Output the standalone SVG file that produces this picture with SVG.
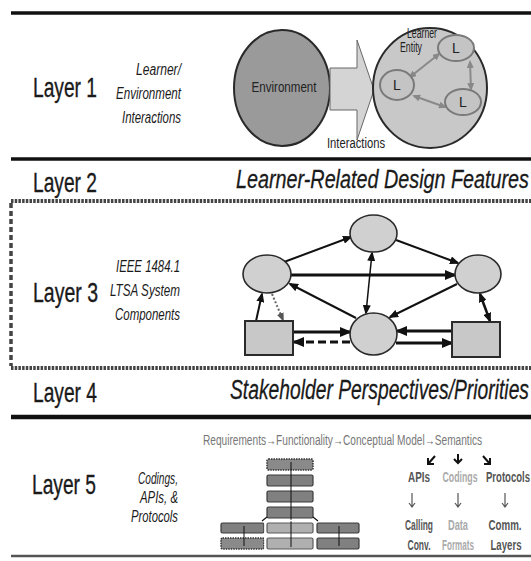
<svg xmlns="http://www.w3.org/2000/svg" width="531" height="561" viewBox="0 0 531 561">
<style>
.lbl{font-family:"Liberation Sans",Arial,sans-serif;font-size:28px;fill:#1a1a1a;stroke:#1a1a1a;stroke-width:0.35}
.sub{font-family:"Liberation Sans",Arial,sans-serif;font-size:16px;font-style:italic;fill:#1a1a1a;text-anchor:end}
.hdr{font-family:"Liberation Sans",Arial,sans-serif;font-style:italic;fill:#1a1a1a;stroke:#1a1a1a;stroke-width:0.3}
.sm{font-family:"Liberation Sans",Arial,sans-serif;font-size:14px;fill:#222}
.b5{font-family:"Liberation Sans",Arial,sans-serif;font-size:14px;font-weight:bold;text-anchor:middle}
.dk{fill:#555}.lt{fill:#aaa}
.node{fill:#d0d0d0;stroke:#2a2a2a;stroke-width:1.6}
.box{fill:#c8c8c8;stroke:#2a2a2a;stroke-width:2}
.ed{stroke:#111;fill:none}
.lc{fill:#c4c4c4;stroke:#7a7a7a;stroke-width:2}
.la{stroke:#8a8a8a;stroke-width:2;fill:none}
.bar{fill:#808080;stroke:#3a3a3a;stroke-width:1.2}
.barl{fill:#b0b0b0;stroke:#5a5a5a;stroke-width:1.2}
.dotl{stroke:#444;stroke-width:4;stroke-dasharray:2.5 1.2}
</style>
<defs>
<marker id="ah" markerUnits="userSpaceOnUse" markerWidth="10" markerHeight="8" refX="8" refY="4" orient="auto-start-reverse"><path d="M0,0 L10,4 L0,8 z" fill="#111"/></marker>
<marker id="ahb" markerUnits="userSpaceOnUse" markerWidth="12" markerHeight="10" refX="10" refY="5" orient="auto-start-reverse"><path d="M0,0 L12,5 L0,10 z" fill="#111"/></marker>
<marker id="ahg" markerUnits="userSpaceOnUse" markerWidth="8" markerHeight="7" refX="6" refY="3.5" orient="auto-start-reverse"><path d="M0,0 L8,3.5 L0,7 z" fill="#888"/></marker>
<marker id="ahd" markerUnits="userSpaceOnUse" markerWidth="9" markerHeight="7" refX="7" refY="3.5" orient="auto-start-reverse"><path d="M0,0 L9,3.5 L0,7 z" fill="#555"/></marker>
</defs>
<rect width="531" height="561" fill="#fff"/>

<g id="frame">
<line x1="11" y1="13" x2="531" y2="13" stroke="#111" stroke-width="3.5"/>
<line x1="11" y1="159" x2="531" y2="159" stroke="#111" stroke-width="3.5"/>
<line class="dotl" x1="11" y1="201" x2="531" y2="201"/>
<line class="dotl" x1="11" y1="368" x2="531" y2="368"/>
<line x1="11" y1="203" x2="11" y2="366" stroke="#444" stroke-width="3.5" stroke-dasharray="5 3"/>
<line x1="11" y1="417" x2="531" y2="417" stroke="#111" stroke-width="4.5"/>
<line x1="11" y1="556" x2="531" y2="556" stroke="#555" stroke-width="2.5"/>
</g>

<g id="labels">
<text class="lbl" x="33" y="97" textLength="64" lengthAdjust="spacingAndGlyphs">Layer 1</text>
<text class="lbl" x="33" y="192" textLength="64" lengthAdjust="spacingAndGlyphs">Layer 2</text>
<text class="lbl" x="33" y="302" textLength="65" lengthAdjust="spacingAndGlyphs">Layer 3</text>
<text class="lbl" x="33" y="402" textLength="64" lengthAdjust="spacingAndGlyphs">Layer 4</text>
<text class="lbl" x="32" y="494" textLength="64" lengthAdjust="spacingAndGlyphs">Layer 5</text>
<text class="sub" x="181" y="75" textLength="45" lengthAdjust="spacingAndGlyphs">Learner/</text>
<text class="sub" x="181" y="99" textLength="65" lengthAdjust="spacingAndGlyphs">Environment</text>
<text class="sub" x="181" y="123" textLength="59" lengthAdjust="spacingAndGlyphs">Interactions</text>
<text class="sub" x="180" y="272" textLength="64" lengthAdjust="spacingAndGlyphs">IEEE 1484.1</text>
<text class="sub" x="180" y="296" textLength="70" lengthAdjust="spacingAndGlyphs">LTSA System</text>
<text class="sub" x="180" y="320" textLength="65" lengthAdjust="spacingAndGlyphs">Components</text>
<text class="sub" x="178" y="484" textLength="40" lengthAdjust="spacingAndGlyphs">Codings,</text>
<text class="sub" x="178" y="503" textLength="38" lengthAdjust="spacingAndGlyphs">APIs, &amp;</text>
<text class="sub" x="178" y="522" textLength="47" lengthAdjust="spacingAndGlyphs">Protocols</text>
<text class="hdr" x="236" y="188" font-size="26" textLength="293" lengthAdjust="spacingAndGlyphs">Learner-Related Design Features</text>
<text class="hdr" x="230" y="399" font-size="27" textLength="299" lengthAdjust="spacingAndGlyphs">Stakeholder Perspectives/Priorities</text>
</g>

<g id="layer1">
<g id="environment">
<ellipse cx="282" cy="88" rx="48" ry="58" fill="#9a9a9a" stroke="#2a2a2a" stroke-width="2"/>
<text class="sm" x="284" y="92" text-anchor="middle" textLength="65" lengthAdjust="spacingAndGlyphs">Environment</text>
</g>
<g id="interactions-arrow">
<path d="M330,68 L357,68 L357,40 L374,90 L357,140 L357,110 L330,110 z" fill="#d4d4d4" stroke="#666" stroke-width="1"/>
<text class="sm" x="327" y="148" font-size="15" textLength="58" lengthAdjust="spacingAndGlyphs">Interactions</text>
</g>
<g id="learner-entity">
<ellipse cx="430" cy="88" rx="57" ry="60" fill="#c8c8c8" stroke="#2a2a2a" stroke-width="2"/>
<text class="sm" x="407" y="38" font-size="12" textLength="30" lengthAdjust="spacingAndGlyphs">Learner</text>
<text class="sm" x="400" y="52" font-size="12" textLength="22" lengthAdjust="spacingAndGlyphs">Entity</text>
<g id="l-arrows">
<line class="la" x1="410" y1="77" x2="439" y2="54" marker-start="url(#ahg)" marker-end="url(#ahg)"/>
<line class="la" x1="470" y1="62" x2="471" y2="89" marker-start="url(#ahg)" marker-end="url(#ahg)"/>
<line class="la" x1="414" y1="96" x2="445" y2="107" marker-start="url(#ahg)" marker-end="url(#ahg)"/>
</g>
<g id="l1"><ellipse class="lc" cx="456" cy="48" rx="18" ry="13"/><text class="sm" x="456" y="53" font-size="13" text-anchor="middle" fill="#333">L</text></g>
<g id="l2"><ellipse class="lc" cx="397" cy="85" rx="17" ry="15"/><text class="sm" x="397" y="90" font-size="13" text-anchor="middle" fill="#333">L</text></g>
<g id="l3"><ellipse class="lc" cx="463" cy="102" rx="18" ry="13"/><text class="sm" x="463" y="107" font-size="13" text-anchor="middle" fill="#333">L</text></g>
</g>
</g>

<g id="layer3-connectors">
<line class="ed" stroke-width="2" x1="284" y1="262" x2="351" y2="237" marker-end="url(#ah)"/>
<line class="ed" stroke-width="2" x1="396" y1="240" x2="458" y2="263" marker-end="url(#ah)"/>
<line class="ed" stroke-width="3" x1="291" y1="275" x2="455" y2="275" marker-end="url(#ahb)"/>
<line class="ed" stroke-width="1.5" x1="372" y1="253" x2="366" y2="313" marker-start="url(#ah)" marker-end="url(#ah)"/>
<line class="ed" stroke-width="2" x1="356" y1="318" x2="290" y2="284" marker-end="url(#ah)"/>
<line class="ed" stroke-width="2" x1="457" y1="284" x2="390" y2="317" marker-end="url(#ah)"/>
<line class="ed" stroke-width="2" x1="256" y1="321" x2="262" y2="294" marker-end="url(#ah)"/>
<line stroke="#666" stroke-width="2" stroke-dasharray="2 2" x1="272" y1="294" x2="283" y2="320" marker-end="url(#ahd)"/>
<line class="ed" stroke-width="3" x1="294" y1="332" x2="350" y2="332" marker-end="url(#ahb)"/>
<line class="ed" stroke-width="3" stroke-dasharray="8 4" x1="350" y1="342" x2="294" y2="342" marker-end="url(#ahb)"/>
<line class="ed" stroke-width="3" x1="452" y1="331" x2="397" y2="331" marker-end="url(#ahb)"/>
<line class="ed" stroke-width="3" x1="396" y1="343" x2="452" y2="343" marker-end="url(#ahb)"/>
<line class="ed" stroke-width="2.5" x1="480" y1="294" x2="490" y2="321" marker-start="url(#ah)" marker-end="url(#ah)"/>
</g>

<g id="layer3-nodes">
<g id="n-top"><ellipse class="node" cx="373.5" cy="233.5" rx="23.5" ry="18.5"/></g>
<g id="n-left"><ellipse class="node" cx="267" cy="274" rx="24" ry="19"/></g>
<g id="n-right"><ellipse class="node" cx="478" cy="274" rx="23" ry="19"/></g>
<g id="n-bottom"><ellipse class="node" cx="373.5" cy="334" rx="23.5" ry="21"/></g>
<g id="r-left"><rect class="box" x="245" y="321" width="48" height="34"/></g>
<g id="r-right"><rect class="box" x="452" y="322" width="48" height="35"/></g>
</g>

<g id="layer5-stack">
<rect x="267" y="459" width="46" height="11" rx="1.5" fill="#8a8a8a" stroke="#333" stroke-width="1.5" stroke-dasharray="1.5 1"/>
<rect class="bar" x="267" y="475" width="46" height="11" rx="1.5"/>
<rect class="bar" x="267" y="491" width="46" height="11" rx="1.5"/>
<rect class="bar" x="267" y="507" width="46" height="11" rx="1.5"/>
<rect class="barl" x="267" y="523" width="46" height="10" rx="1.5"/>
<rect class="barl" x="267" y="538" width="46" height="11" rx="1.5"/>
<rect class="bar" x="221" y="523" width="43" height="10" rx="1.5"/>
<rect x="221" y="538" width="43" height="11" rx="1.5" fill="#8a8a8a" stroke="#333" stroke-width="1.5" stroke-dasharray="1.5 1"/>
<rect class="bar" x="317" y="523" width="42" height="10" rx="1.5"/>
<rect class="bar" x="317" y="538" width="42" height="11" rx="1.5"/>
<line x1="291" y1="462" x2="291" y2="547" stroke="#111" stroke-width="1"/>
<line x1="339" y1="526" x2="339" y2="546" stroke="#111" stroke-width="1"/>
<line x1="244" y1="526" x2="244" y2="546" stroke="#111" stroke-width="1"/>
<rect x="265" y="520.5" width="50" height="30.5" fill="none" stroke="#fff" stroke-width="1.5"/>
<path d="M267,517 L262,521 M313,517 L318,521" stroke="#111" stroke-width="1.2" fill="none"/>
</g>

<g id="layer5-text">
<text class="sm" x="203" y="445" font-size="14" textLength="279" lengthAdjust="spacingAndGlyphs" style="fill:#777">Requirements→Functionality→Conceptual Model→Semantics</text>
<path d="M435,456 L428,464 M428,458 L428,464 L434,464" stroke="#111" stroke-width="2" fill="none"/>
<path d="M458,454 L458,463 M454,459 L458,463 L462,459" stroke="#111" stroke-width="2" fill="none"/>
<path d="M483,456 L490,464 M490,458 L490,464 L484,464" stroke="#111" stroke-width="2" fill="none"/>
<text class="b5 dk" x="419" y="482" textLength="22" lengthAdjust="spacingAndGlyphs">APIs</text>
<text class="b5 lt" x="460" y="482" textLength="35" lengthAdjust="spacingAndGlyphs">Codings</text>
<text class="b5 dk" x="508" y="482" textLength="44" lengthAdjust="spacingAndGlyphs">Protocols</text>
<path d="M412,493 L412,507 M409,503 L412,507 L415,503" stroke="#555" stroke-width="1.2" fill="none"/>
<path d="M458,493 L458,507 M455,503 L458,507 L461,503" stroke="#555" stroke-width="1.2" fill="none"/>
<path d="M505,493 L505,507 M502,503 L505,507 L508,503" stroke="#555" stroke-width="1.2" fill="none"/>
<text class="b5 dk" x="419" y="530" textLength="28" lengthAdjust="spacingAndGlyphs">Calling</text>
<text class="b5 dk" x="419" y="550" textLength="23" lengthAdjust="spacingAndGlyphs">Conv.</text>
<text class="b5 lt" x="458" y="530" textLength="20" lengthAdjust="spacingAndGlyphs">Data</text>
<text class="b5 lt" x="458" y="550" textLength="32" lengthAdjust="spacingAndGlyphs">Formats</text>
<text class="b5 dk" x="505" y="530" textLength="33" lengthAdjust="spacingAndGlyphs">Comm.</text>
<text class="b5 dk" x="506" y="550" textLength="31" lengthAdjust="spacingAndGlyphs">Layers</text>
</g>
</svg>
